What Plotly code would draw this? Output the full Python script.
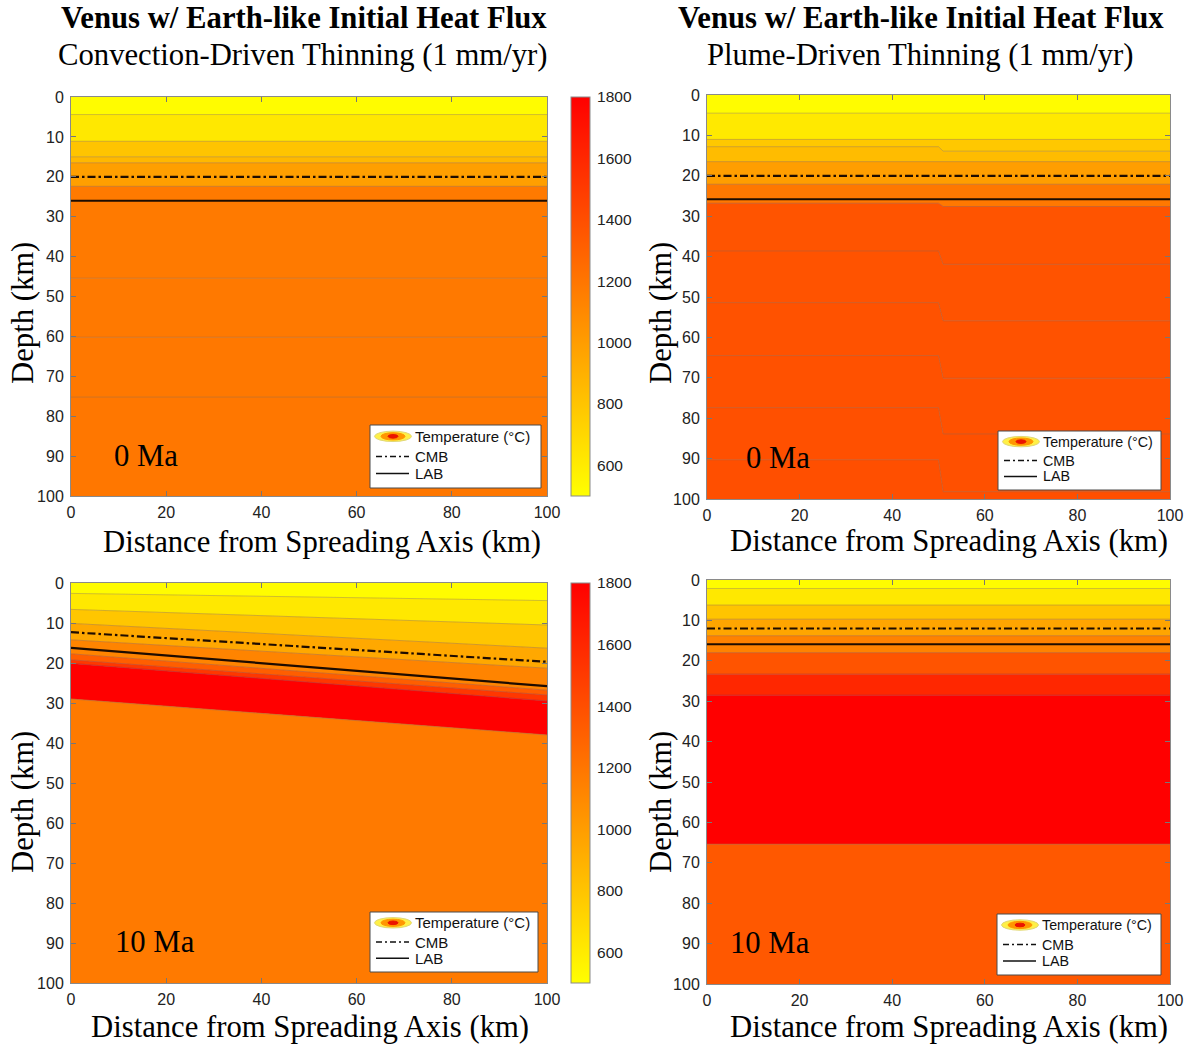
import plotly.graph_objects as go
from plotly.colors import sample_colorscale

W, H = 1192, 1047

# ---------------- data ----------------
T_MIN, T_MAX = 500, 1800
COLORSCALE = [[0.0, "rgb(255,255,0)"], [1.0, "rgb(255,0,0)"]]
CBAR_TICKS = [600, 800, 1000, 1200, 1400, 1600, 1800]
X_TICKS = [0, 20, 40, 60, 80, 100]
Y_TICKS = [0, 10, 20, 30, 40, 50, 60, 70, 80, 90, 100]

TITLE = "Venus w/ Earth-like Initial Heat Flux"
SUB_LEFT = "Convection-Driven Thinning (1 mm/yr)"
SUB_RIGHT = "Plume-Driven Thinning (1 mm/yr)"
X_LABEL = "Distance from Spreading Axis (km)"
Y_LABEL = "Depth (km)"
LEGEND_LABELS = ["Temperature (°C)", "CMB", "LAB"]

# Panel A: convection-driven thinning, 0 Ma  (isotherm depths at each x node, km)
a_x = [0, 100]
a_isotherms = [[4.4, 4.4], [11.1, 11.1], [15.0, 15.0], [16.5, 16.5], [22.4, 22.4],
               [45.4, 45.4], [60.2, 60.2], [75.2, 75.2]]
a_band_temps = [515, 615, 800, 860, 990, 1180, 1185, 1190, 1195]
a_cmb = [20.0, 20.0]
a_lab = [26.0, 26.0]
a_time = "0 Ma"

# Panel B: plume-driven thinning, 0 Ma
b_x = [0, 50, 51, 100]
b_isotherms = [[4.5, 4.5, 4.5, 4.5], [11.0, 11.0, 11.0, 11.0], [12.8, 12.8, 13.9, 13.9],
               [16.5, 16.5, 16.5, 16.5], [22.1, 22.1, 22.1, 22.1], [26.8, 26.8, 27.6, 27.6],
               [38.6, 38.6, 41.9, 41.9], [51.4, 51.4, 55.9, 55.9], [64.5, 64.5, 70.1, 70.1],
               [77.4, 77.4, 83.9, 83.9], [90.3, 90.3, 98.2, 98.2]]
b_band_temps = [515, 612, 780, 840, 995, 1190, 1370, 1375, 1380, 1385, 1390, 1395]
b_cmb = [20.0, 20.0, 20.0, 20.0]
b_lab = [25.8, 25.8, 25.8, 25.8]
b_time = "0 Ma"

# Panel C: convection-driven thinning, 10 Ma
c_x = [0, 100]
c_isotherms = [[2.6, 4.4], [6.6, 10.5], [10.1, 16.3], [14.2, 21.3], [17.7, 26.8],
               [19.2, 28.0], [20.1, 29.5], [29.0, 38.0]]
c_band_temps = [515, 615, 790, 945, 1125, 1320, 1520, 1800, 1180]
c_cmb = [12.3, 19.7]
c_lab = [16.2, 25.8]
c_time = "10 Ma"

# Panel D: plume-driven thinning, 10 Ma
d_x = [0, 100]
d_isotherms = [[2.1, 2.1], [6.2, 6.2], [9.7, 9.7], [13.8, 13.8], [18.0, 18.0],
               [23.3, 23.3], [28.5, 28.5], [65.4, 65.4]]
d_band_temps = [515, 615, 800, 960, 1135, 1370, 1600, 1800, 1350]
d_cmb = [12.0, 12.0]
d_lab = [15.9, 15.9]
d_time = "10 Ma"

# ---------------- layout helpers (pixels) ----------------
def px(x):
    return x / W


def py(y):
    return 1 - y / H


PANELS = {
    "A": dict(rect=(71, 547, 97, 496), xa="x", ya="y"),
    "B": dict(rect=(707, 1170, 95, 499), xa="x2", ya="y2"),
    "C": dict(rect=(71, 547, 583, 983), xa="x3", ya="y3"),
    "D": dict(rect=(707, 1170, 580, 984), xa="x4", ya="y4"),
}
LEG_BOX = {"A": (370, 425, 541, 488), "B": (998, 431, 1161, 490),
           "C": (370, 912, 538, 972), "D": (997, 914, 1161, 975)}
LEG_FONT = {"A": 15, "B": 14.3, "C": 15, "D": 14.3}
TIME_POS = {"A": (146, 456), "B": (778, 458), "C": (155, 942), "D": (770, 943)}
XLAB_POS = {"A": (322, 542), "B": (949, 541), "C": (310, 1027), "D": (949, 1027)}
YLAB_POS = {"A": (23, 313), "B": (661, 313), "C": (23, 802), "D": (661, 802)}

SERIF = "Liberation Serif, Times New Roman, serif"
SANS = "Liberation Sans, Arial, Helvetica, sans-serif"
SERIF_SIZE = 30.7

fig = go.Figure()


def tcolor(t):
    return sample_colorscale(COLORSCALE, [(t - T_MIN) / (T_MAX - T_MIN)])[0]


def add_panel(xs, isos, temps, cmb, lab, xa, ya):
    tops = [[0] * len(xs)] + isos
    bots = isos + [[100] * len(xs)]
    for top, bot, t in zip(tops, bots, temps):
        c = tcolor(t)
        fig.add_trace(go.Scatter(
            x=list(xs) + list(xs)[::-1], y=list(top) + list(bot)[::-1],
            fill="toself", fillcolor=c, mode="lines", line=dict(width=0.6, color=c),
            xaxis=xa, yaxis=ya, showlegend=False, hoverinfo="skip"))
    for iso in isos:
        fig.add_trace(go.Scatter(
            x=xs, y=iso, mode="lines", line=dict(width=1, color="rgba(120,110,100,0.35)"),
            xaxis=xa, yaxis=ya, showlegend=False, hoverinfo="skip"))
    fig.add_trace(go.Scatter(
        x=xs, y=cmb, mode="lines", name="CMB",
        line=dict(width=2.2, color="#1e0c00", dash="8px,3px,2.5px,3px"),
        xaxis=xa, yaxis=ya, showlegend=False, hoverinfo="skip"))
    fig.add_trace(go.Scatter(
        x=xs, y=lab, mode="lines", name="LAB",
        line=dict(width=2.2, color="#1e0c00"),
        xaxis=xa, yaxis=ya, showlegend=False, hoverinfo="skip"))


data = {
    "A": (a_x, a_isotherms, a_band_temps, a_cmb, a_lab, a_time),
    "B": (b_x, b_isotherms, b_band_temps, b_cmb, b_lab, b_time),
    "C": (c_x, c_isotherms, c_band_temps, c_cmb, c_lab, c_time),
    "D": (d_x, d_isotherms, d_band_temps, d_cmb, d_lab, d_time),
}

for k, (xs, isos, temps, cmb, lab, _) in data.items():
    add_panel(xs, isos, temps, cmb, lab, PANELS[k]["xa"], PANELS[k]["ya"])

# colorbars (left column only)
for k in ("A", "C"):
    L, R, T, B = PANELS[k]["rect"]
    fig.add_trace(go.Scatter(
        x=[-50, -50], y=[-50, -50], mode="markers",
        marker=dict(color=[T_MIN, T_MAX], cmin=T_MIN, cmax=T_MAX, colorscale=COLORSCALE,
                    showscale=True,
                    colorbar=dict(
                        x=px(571), xanchor="left", xpad=0, ypad=0,
                        y=py((T + B) / 2), yanchor="middle",
                        len=(B - T) / H, lenmode="fraction",
                        thickness=19, thicknessmode="pixels",
                        outlinecolor="#8a8a8a", outlinewidth=1,
                        tickvals=CBAR_TICKS, ticks="outside", ticklen=4,
                        tickcolor="rgba(0,0,0,0)",
                        tickfont=dict(family=SANS, size=15.5, color="#222"))),
        xaxis=PANELS[k]["xa"], yaxis=PANELS[k]["ya"], showlegend=False, hoverinfo="skip"))

layout = dict(width=W, height=H, margin=dict(l=0, r=0, t=0, b=0, pad=0, autoexpand=False),
              paper_bgcolor="white", plot_bgcolor="white", showlegend=False)

shapes = []
annotations = []

for k, p in PANELS.items():
    L, R, T, B = p["rect"]
    n = "" if p["xa"] == "x" else p["xa"][1:]
    common = dict(showline=True, linecolor="#8a8a8a", linewidth=1, mirror="ticks",
                  ticks="inside", ticklen=5, tickcolor="#777", showgrid=False,
                  zeroline=False, automargin=False,
                  tickfont=dict(family=SANS, size=16, color="#222"))
    layout["xaxis" + n] = dict(domain=[px(L), px(R)], range=[0, 100], tickvals=X_TICKS,
                               anchor=p["ya"], ticklabelstandoff=2, **common)
    layout["yaxis" + n] = dict(domain=[py(B), py(T)], range=[100, 0], tickvals=Y_TICKS,
                               anchor=p["xa"], ticklabelstandoff=3, **common)

    # legend box
    bl, bt, br, bb = LEG_BOX[k]
    h = bb - bt
    rows = [bt + h * 0.18, bt + h * 0.5, bt + h * 0.77]
    shapes.append(dict(type="rect", xref="paper", yref="paper", x0=px(bl), x1=px(br),
                       y0=py(bb), y1=py(bt), fillcolor="white",
                       line=dict(color="#4a4a4a", width=1)))
    cx, cy = bl + 23, rows[0]
    for rx, ry, fc, lc in [(18.5, 5.2, "rgb(255,240,70)", "rgb(225,215,120)"),
                           (12, 3.6, "rgb(255,150,0)", "rgb(255,150,0)"),
                           (5, 1.8, "rgb(235,20,0)", "rgb(235,20,0)")]:
        shapes.append(dict(type="circle", xref="paper", yref="paper",
                           x0=px(cx - rx), x1=px(cx + rx), y0=py(cy + ry), y1=py(cy - ry),
                           fillcolor=fc, line=dict(color=lc, width=1)))
    shapes.append(dict(type="line", xref="paper", yref="paper", x0=px(bl + 6), x1=px(bl + 39),
                       y0=py(rows[1]), y1=py(rows[1]),
                       line=dict(color="#111", width=1.5, dash="6px,3px,2px,3px")))
    shapes.append(dict(type="line", xref="paper", yref="paper", x0=px(bl + 6), x1=px(bl + 39),
                       y0=py(rows[2]), y1=py(rows[2]), line=dict(color="#111", width=1.5)))
    for txt, ry in zip(LEGEND_LABELS, rows):
        annotations.append(dict(text=txt, xref="paper", yref="paper", x=px(bl + 43), y=py(ry),
                                xanchor="left", yanchor="middle", showarrow=False,
                                font=dict(family=SANS, size=LEG_FONT[k], color="#111")))

    # time label
    tx, ty = TIME_POS[k]
    annotations.append(dict(text=data[k][5], xref="paper", yref="paper", x=px(tx), y=py(ty),
                            xanchor="center", yanchor="middle", showarrow=False,
                            font=dict(family=SERIF, size=SERIF_SIZE, color="black")))
    # axis labels
    lx, ly = XLAB_POS[k]
    annotations.append(dict(text=X_LABEL, xref="paper", yref="paper", x=px(lx), y=py(ly),
                            xanchor="center", yanchor="middle", showarrow=False,
                            font=dict(family=SERIF, size=SERIF_SIZE, color="black")))
    lx, ly = YLAB_POS[k]
    annotations.append(dict(text=Y_LABEL, xref="paper", yref="paper", x=px(lx), y=py(ly),
                            xanchor="center", yanchor="middle", showarrow=False, textangle=-90,
                            font=dict(family=SERIF, size=SERIF_SIZE, color="black")))

# titles
for cx, sub in [(304, SUB_LEFT), (921, SUB_RIGHT)]:
    annotations.append(dict(text="<b>" + TITLE + "</b>", xref="paper", yref="paper",
                            x=px(cx), y=py(18), xanchor="center", yanchor="middle",
                            showarrow=False,
                            font=dict(family=SERIF, size=SERIF_SIZE, color="black")))
    annotations.append(dict(text=sub, xref="paper", yref="paper", x=px(cx - 1), y=py(55),
                            xanchor="center", yanchor="middle", showarrow=False,
                            font=dict(family=SERIF, size=SERIF_SIZE, color="black")))

layout["shapes"] = shapes
layout["annotations"] = annotations
fig.update_layout(**layout)

fig.write_html(
    "out.html",
    config={"displayModeBar": False},
    post_script="document.body.style.margin='0';document.body.style.overflow='hidden';",
)
